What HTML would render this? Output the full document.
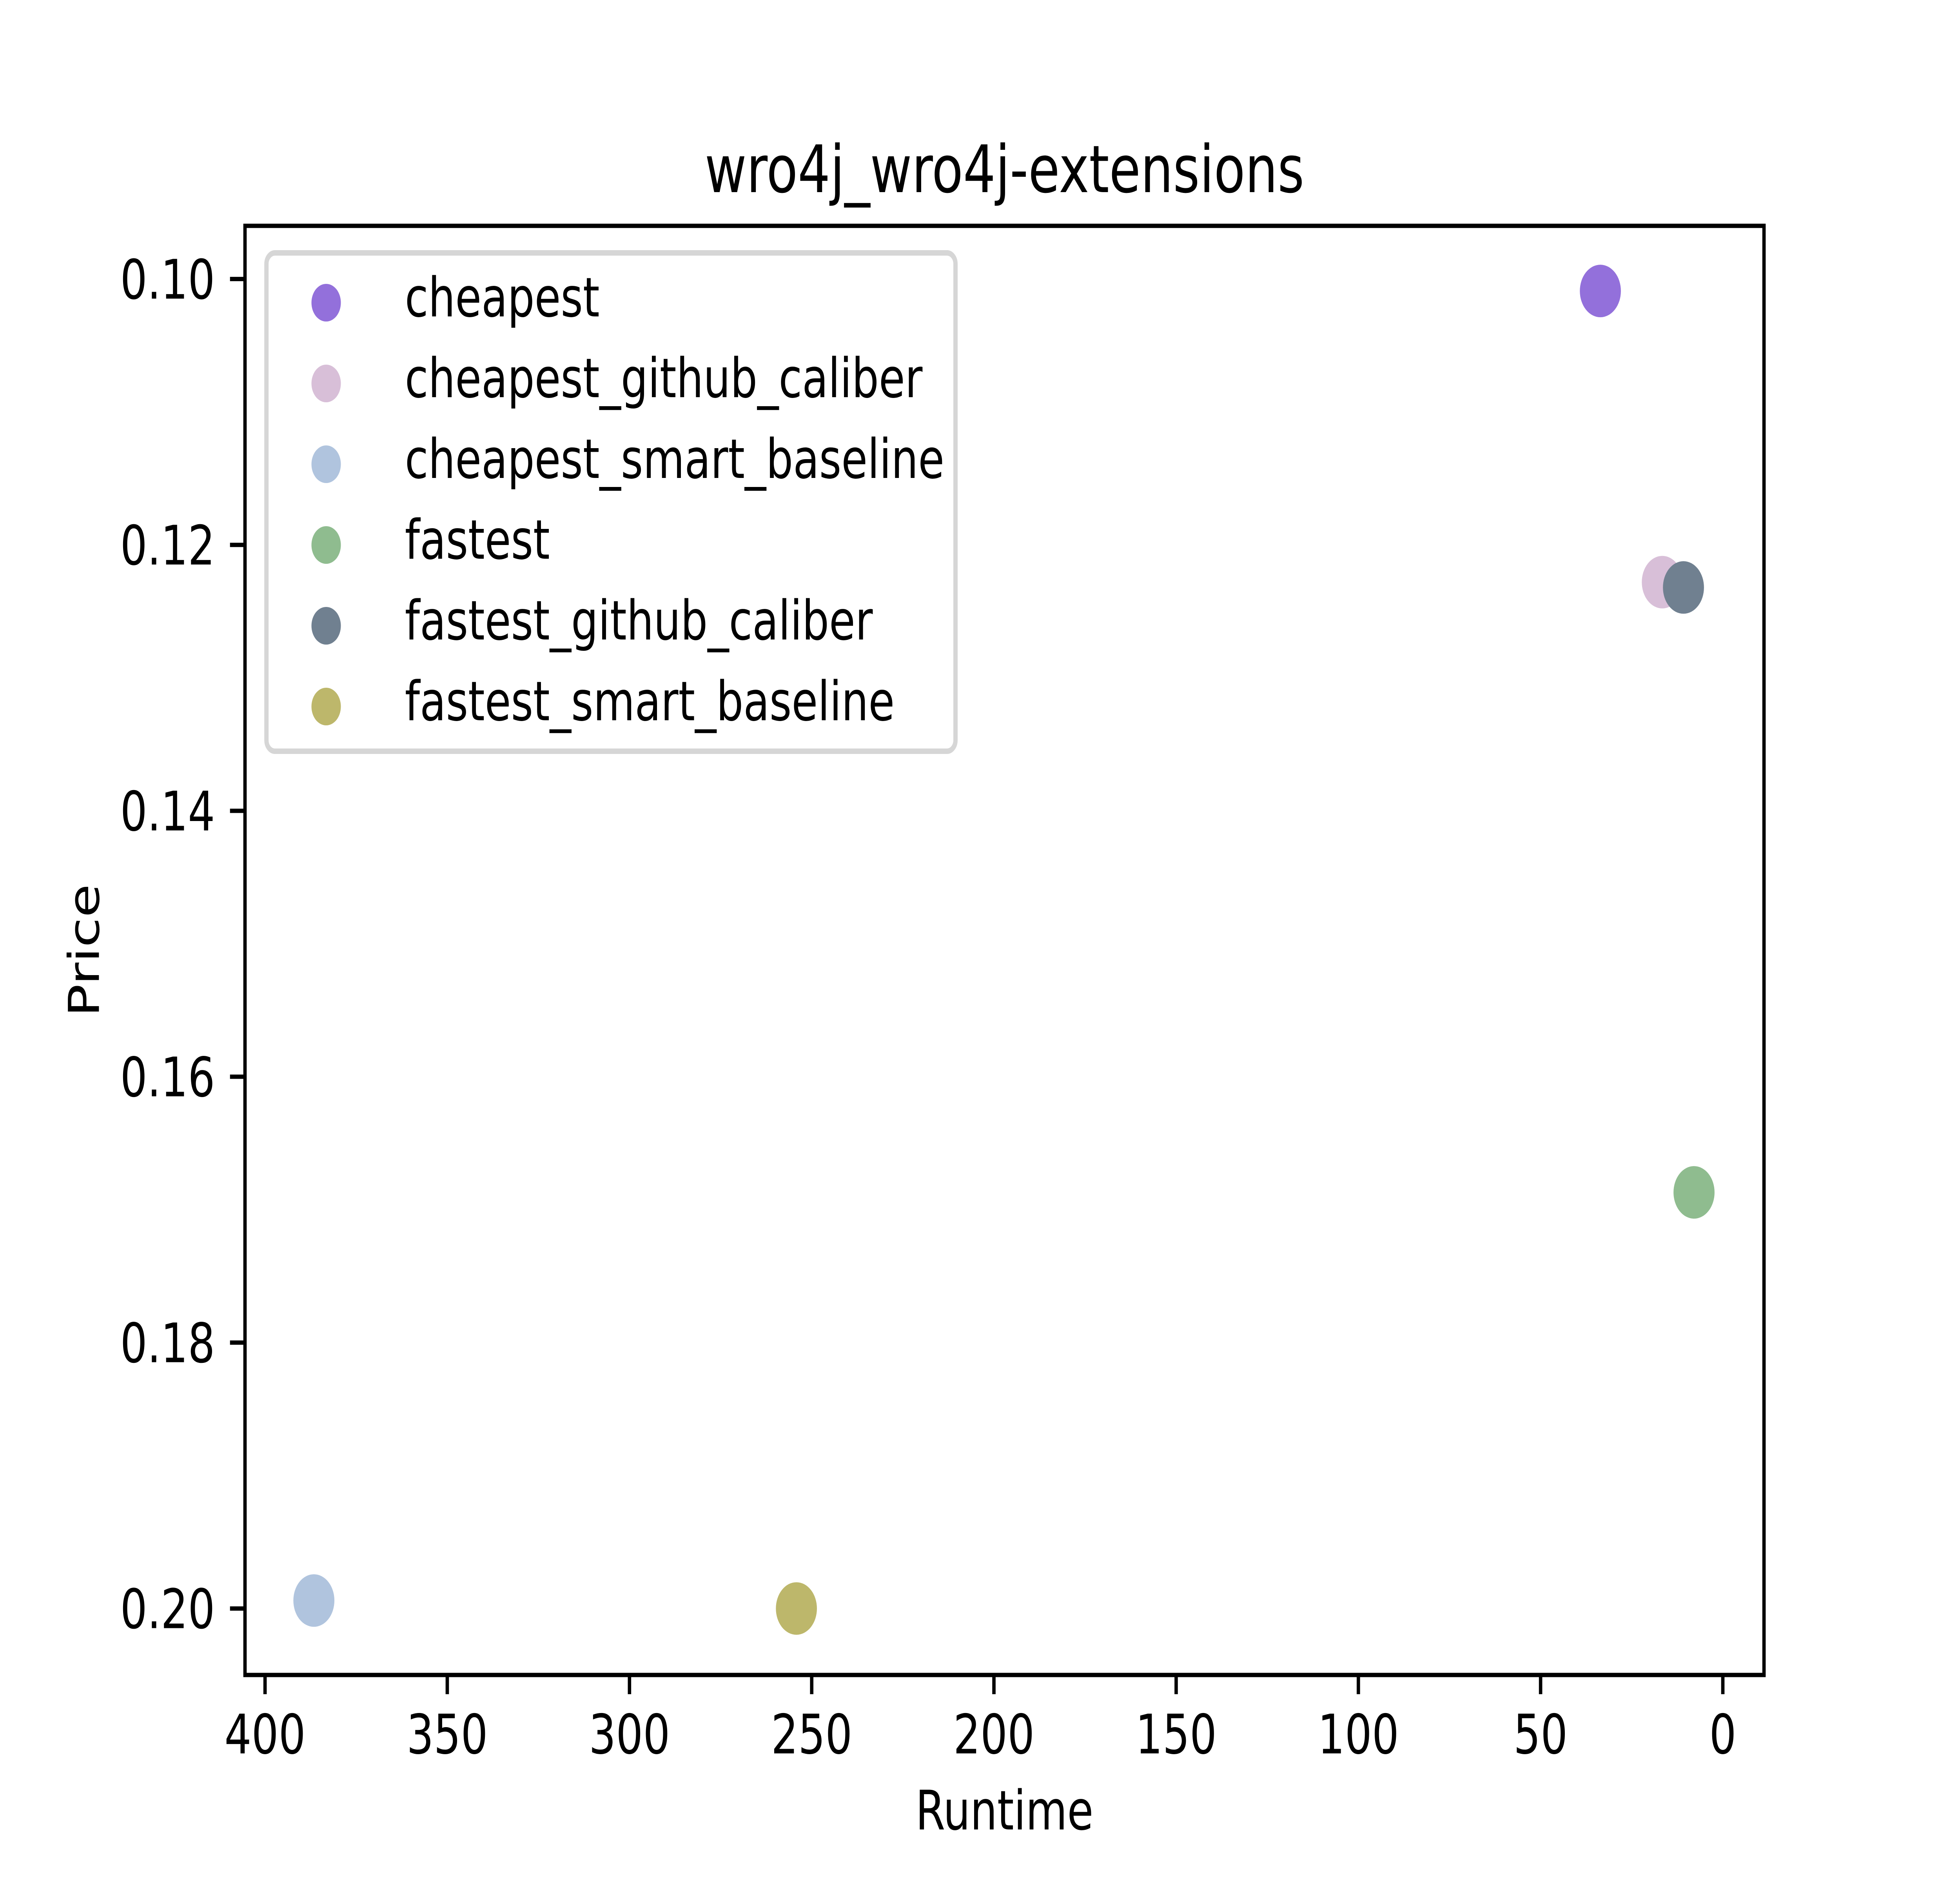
<!DOCTYPE html>
<html><head><meta charset="utf-8"><style>
html,body{margin:0;padding:0;background:#fff;width:100%;height:100%;overflow:hidden}
svg{display:block;position:absolute;left:0;top:0;width:100vw;height:100vh}
text{font-family:"DejaVu Sans","Liberation Sans",sans-serif;fill:#000}
</style></head><body>
<svg id="chart" viewBox="0 0 6400 4800" preserveAspectRatio="none" xmlns="http://www.w3.org/2000/svg">
<rect width="6400" height="4800" fill="#fff"/>
<text x="3280" y="490" font-size="167" text-anchor="middle">wro4j_wro4j-extensions</text>
<g id="marks"></g>
<g id="axes"></g>
<g id="legend"></g>
<text x="3280" y="4666" font-size="139" text-anchor="middle">Runtime</text>
<text transform="translate(323,2424) rotate(-90)" font-size="139" text-anchor="middle">Price</text>
</svg>
<script>
const seriesNames = ["cheapest","cheapest_github_caliber","cheapest_smart_baseline","fastest","fastest_github_caliber","fastest_smart_baseline"];
const seriesColors = ["#9370DB","#D8BFD8","#B0C4DE","#8FBC8F","#708090","#BDB76B"];
const runtimeValues = [33.6, 16.6, 386.6, 7.9, 10.8, 254.2];
const priceValues = [0.1009, 0.1228, 0.1994, 0.1687, 0.1232, 0.2000];
const xTickValues = [400,350,300,250,200,150,100,50,0];
const xTickLabels = ["400","350","300","250","200","150","100","50","0"];
const yTickValues = [0.10,0.12,0.14,0.16,0.18,0.20];
const yTickLabels = ["0.10","0.12","0.14","0.16","0.18","0.20"];

const NS="http://www.w3.org/2000/svg";
const L=800,R=5760,T=576,B=4272;
const xMin=405.5,xMax=-11.3,yMin=0.0960,yMax=0.2050;
function xs(v){return L+(v-xMin)/(xMax-xMin)*(R-L);}
function ys(v){return T+(v-yMin)/(yMax-yMin)*(B-T);}
function mk(tag,attrs,parent){const e=document.createElementNS(NS,tag);for(const k in attrs)e.setAttribute(k,attrs[k]);parent.appendChild(e);return e;}

const marks=document.getElementById('marks');
for(let i=0;i<seriesNames.length;i++){
  const c=mk('circle',{cx:xs(runtimeValues[i]),cy:ys(priceValues[i]),r:67,fill:seriesColors[i]},marks);
  
  
}

const axes=document.getElementById('axes');
const frame=mk('rect',{x:L,y:T,width:R-L,height:B-T,fill:'none',stroke:'#000','stroke-width':11},axes);


for(let i=0;i<xTickValues.length;i++){
  const x=xs(xTickValues[i]);
  const t=mk('line',{x1:x,x2:x,y1:B,y2:B+49,stroke:'#000','stroke-width':11},axes);
  
  
  const lb=mk('text',{x:x,y:4472,'font-size':139,'text-anchor':'middle'},axes);
  lb.textContent=xTickLabels[i];
  
  
}
for(let i=0;i<yTickValues.length;i++){
  const y=ys(yTickValues[i]);
  const t=mk('line',{x1:L-49,x2:L,y1:y,y2:y,stroke:'#000','stroke-width':11},axes);
  
  
  const lb=mk('text',{x:702,y:y+50,'font-size':139,'text-anchor':'end'},axes);
  lb.textContent=yTickLabels[i];
  
  
}

const legend=document.getElementById('legend');
const box=mk('rect',{x:870,y:645,width:2250,height:1271,rx:28,fill:'#fff','fill-opacity':0.8,stroke:'#d6d6d6','stroke-width':14},legend);


for(let i=0;i<seriesNames.length;i++){
  const cy=772+i*206;
  const m=mk('circle',{cx:1065,cy:cy,r:48,fill:seriesColors[i]},legend);
  
  
  const tx=mk('text',{x:1322,y:cy+35,'font-size':139},legend);
  tx.textContent=seriesNames[i];
  
  
}
</script>
</body></html>
